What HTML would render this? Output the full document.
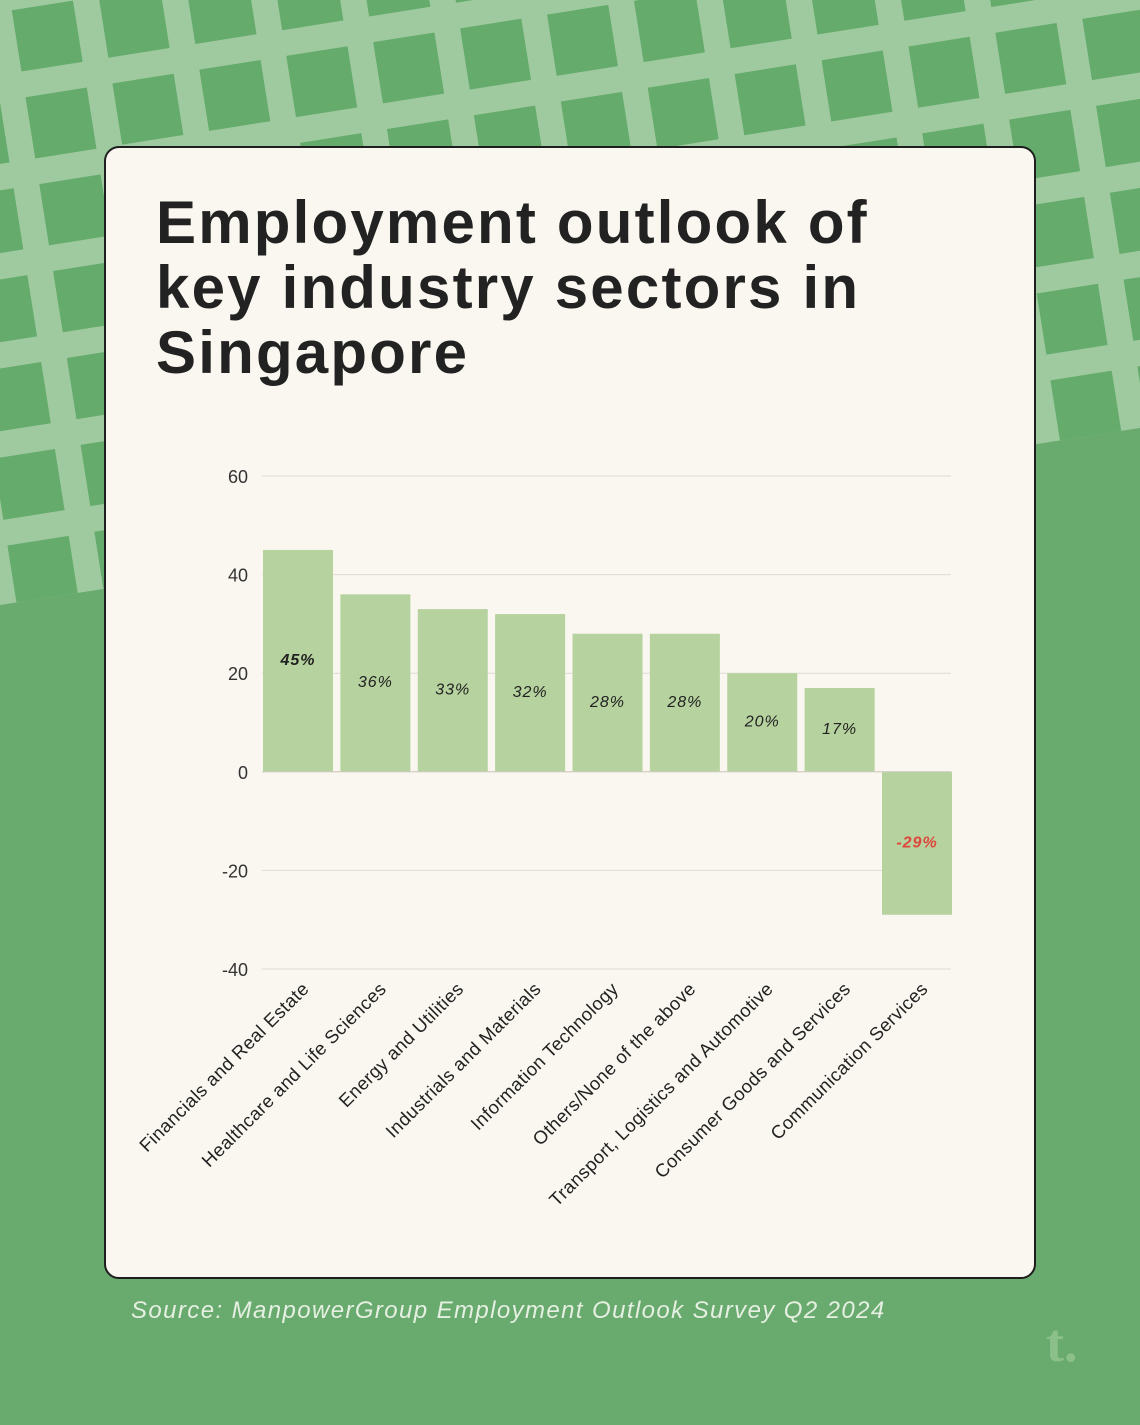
<!DOCTYPE html>
<html><head><meta charset="utf-8">
<style>
body{margin:0;width:1140px;height:1425px;overflow:hidden;background:#69aa6f;font-family:"Liberation Sans",sans-serif;}
#wrap{position:relative;width:1140px;height:1425px;}
#card{position:absolute;left:104px;top:146px;width:928px;height:1129px;background:#f9f7ef;border:2px solid #1e1e1e;border-radius:15px;}
#title{position:absolute;left:50px;top:42px;font-size:60px;font-weight:bold;line-height:65px;color:#222;letter-spacing:2.2px;margin:0;}
#src{position:absolute;left:131px;top:1297px;font-size:24px;font-style:italic;color:#e6f0e2;letter-spacing:1.4px;}
#logo{position:absolute;left:1046px;top:1312px;font-size:54px;font-weight:bold;font-family:"Liberation Serif",serif;color:#8cc08a;}
</style></head><body>
<div id="wrap">
<svg id="bg" width="1140" height="1425" style="position:absolute;left:0;top:0">
<defs><clipPath id="cp"><polygon points="0,0 1140,0 1140,428 0,605"/></clipPath></defs>
<polygon points="0,0 1140,0 1140,428 0,605" fill="#9fcaa0"/>
<g clip-path="url(#cp)" id="sq"></g>
</svg>
<div id="card">
<h1 id="title">Employment outlook of<br>key industry sectors in<br>Singapore</h1>
</div>
<svg id="chart" width="1140" height="1425" style="position:absolute;left:0;top:0"></svg>
<div id="src">Source: ManpowerGroup Employment Outlook Survey Q2 2024</div>
<div id="logo">t.</div>
</div>
<script>
const categories=["Financials and Real Estate","Healthcare and Life Sciences","Energy and Utilities","Industrials and Materials","Information Technology","Others/None of the above","Transport, Logistics and Automotive","Consumer Goods and Services","Communication Services"];
const values=[45,36,33,32,28,28,20,17,-29];
const ticks=[60,40,20,0,-20,-40];
const NS="http://www.w3.org/2000/svg";
function mk(p,t,a){const e=document.createElementNS(NS,t);for(const k in a)e.setAttribute(k,a[k]);p.appendChild(e);return e;}
const sq=document.getElementById('sq');
for(let i=-2;i<16;i++)for(let j=-2;j<9;j++){
 const r=mk(sq,'rect',{x:i*88+10,y:j*88+12,width:62,height:62,fill:'#65ab6c',transform:'rotate(-9 0 0)'});
 
 
}
const svg=document.getElementById('chart');
const x0=262,x1=951,yMin=-40,yMax=60,yTop=476,yBot=969;
const y=v=>yBot-(v-yMin)/(yMax-yMin)*(yBot-yTop);
const bw=70;
const band=(x1-x0-bw)/(categories.length-1);
const bx=i=>x0+1+i*band;
ticks.forEach(t=>{
 const l=mk(svg,'line',{x1:x0,x2:x1,y1:y(t),y2:y(t),stroke:'#dedbd2','stroke-width':1});
 
 
 const tx=mk(svg,'text',{x:248,y:y(t)+7,'text-anchor':'end','font-size':18,fill:'#333'});
 tx.textContent=t;
 
 
});
values.forEach((v,i)=>{
 const top=Math.min(y(v),y(0)),h=Math.abs(y(v)-y(0));
 const r=mk(svg,'rect',{x:bx(i),y:top,width:bw,height:h,fill:'#b6d29f'});
 
 
 const cx=bx(i)+bw/2;
 const lt=mk(svg,'text',{x:cx,y:y(v/2)+4,'text-anchor':'middle','font-size':16,'letter-spacing':1,'font-style':'italic','font-weight':i==0||v<0?'bold':'normal',fill:v<0?'#e0463c':'#222'});
 lt.textContent=v+'%';
 
 
 const xl=mk(svg,'text',{x:0,y:0,'text-anchor':'end','font-size':18.5,'letter-spacing':0.4,fill:'#222',transform:`translate(${cx+12},${990}) rotate(-45)`});
 xl.textContent=categories[i];
 
 
});
const z=mk(svg,'line',{x1:x0,x2:x1,y1:y(0),y2:y(0),stroke:'#cfcbc0','stroke-width':1});


</script>
</body></html>
